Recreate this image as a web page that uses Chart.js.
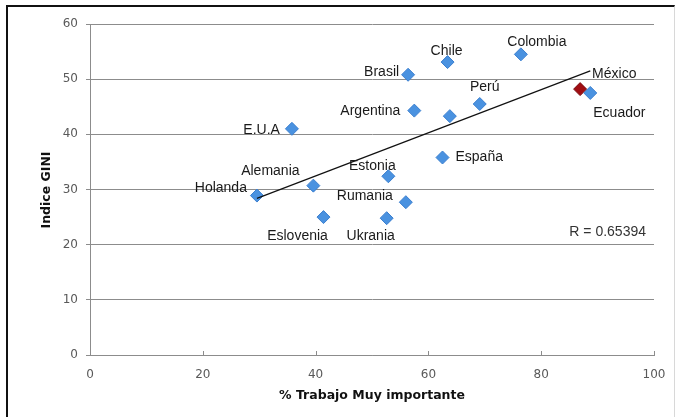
<!DOCTYPE html>
<html>
<head>
<meta charset="utf-8">
<script src="https://cdn.jsdelivr.net/npm/chart.js@4"></script>
<style>
  html, body { margin: 0; padding: 0; background: #fff; }
  #wrap { position: relative; width: 680px; height: 417px; overflow: hidden; }
  #frame {
    position: absolute; left: 6px; top: 5px; width: 666px; height: 430px;
    border-left: 2px solid #111; border-top: 2px solid #111; border-right: 1px solid #d8d8d8;
    pointer-events: none;
  }
</style>
</head>
<body>
<div id="wrap">
  <canvas id="chart" width="680" height="417"></canvas>
  <div id="frame"></div>
</div>
<script>
// values
const countries = ['Holanda', 'E.U.A', 'Alemania', 'Eslovenia', 'Estonia', 'Rumania', 'Ukrania',
  'España', 'Argentina', '', 'Perú', 'Brasil', 'Chile', 'Colombia', 'México', 'Ecuador'];
const trabajo = [29.6, 35.8, 39.6, 41.4, 52.9, 56.0, 52.6, 62.5, 57.5, 63.8, 69.1, 56.4, 63.4, 76.4, 86.9, 88.7];
const gini = [28.9, 41.0, 30.7, 25.0, 32.4, 27.7, 24.8, 35.8, 44.3, 43.3, 45.5, 50.8, 53.1, 54.5, 48.2, 47.5];

const trendX = [29.6, 88.7];
const trendY = [28.4, 51.5];
const rText = 'R = 0.65394';

const xTicks = [0, 20, 40, 60, 80, 100];

// label placement relative to each marker: [dx, dy, align]
const labelPos = {
  'Holanda': [-10, -7, 'right'],
  'E.U.A': [-12, 1, 'right'],
  'Alemania': [-43, -14, 'center'],
  'Eslovenia': [-26, 19, 'center'],
  'Estonia': [-16, -10, 'center'],
  'Rumania': [-13, -6, 'right'],
  'Ukrania': [-16, 18, 'center'],
  'España': [13, 0, 'left'],
  'Argentina': [-14, 1, 'right'],
  'Perú': [5, -17, 'center'],
  'Brasil': [-9, -3, 'right'],
  'Chile': [-1, -11, 'center'],
  'Colombia': [16, -12, 'center'],
  'México': [12, -15, 'left'],
  'Ecuador': [3, 20, 'left']
};

const points = trabajo.map((v, i) => ({ x: v, y: gini[i] }));
const trend = trendX.map((v, i) => ({ x: v, y: trendY[i] }));

const extras = {
  id: 'extras',
  afterDatasetsDraw(chart) {
    const ctx = chart.ctx;
    const meta = chart.getDatasetMeta(1);
    ctx.save();
    ctx.fillStyle = '#1a1a1a';
    ctx.font = '14px "Liberation Sans", Arial, sans-serif';
    ctx.textBaseline = 'middle';
    countries.forEach((name, i) => {
      if (!name) return;
      const p = meta.data[i];
      const pos = labelPos[name] || [8, 0, 'left'];
      ctx.textAlign = pos[2];
      ctx.fillText(name, p.x + pos[0], p.y + pos[1]);
    });
    ctx.fillStyle = '#333';
    ctx.textAlign = 'right';
    ctx.fillText(rText, 646, 232);

    // inward tick marks on x axis
    const xs = chart.scales.x;
    ctx.strokeStyle = '#8c8c8c';
    ctx.lineWidth = 1;
    xTicks.forEach(t => {
      const px = Math.round(xs.getPixelForValue(t)) + 0.5;
      ctx.beginPath();
      ctx.moveTo(px, xs.top);
      ctx.lineTo(px, xs.top - 4);
      ctx.stroke();
    });

    // axis titles
    ctx.fillStyle = '#111';
    ctx.font = 'bold 12.5px "DejaVu Sans", sans-serif';
    ctx.textAlign = 'center';
    ctx.fillText('% Trabajo Muy importante', 372, 396);
    ctx.translate(47, 190);
    ctx.rotate(-Math.PI / 2);
    ctx.fillText('Indice GINI', 0, 0);
    ctx.restore();
  }
};

new Chart(document.getElementById('chart'), {
  type: 'scatter',
  data: {
    datasets: [
      {
        type: 'line',
        data: trend,
        borderColor: '#111',
        borderWidth: 1.2,
        pointRadius: 0,
        fill: false,
        order: 0
      },
      {
        data: points,
        pointStyle: 'rectRot',
        pointRadius: 6.5,
        pointBackgroundColor: ctx => countries[ctx.dataIndex] === 'México' ? '#a00d12' : '#4a92e0',
        pointBorderColor: ctx => countries[ctx.dataIndex] === 'México' ? '#7a0a0e' : '#3b7fcf',
        pointBorderWidth: 1,
        order: 1
      }
    ]
  },
  options: {
    responsive: false,
    animation: false,
    layout: { padding: { left: 0, top: 24, right: 26, bottom: 0 } },
    plugins: { legend: { display: false }, tooltip: { enabled: false } },
    scales: {
      x: {
        type: 'linear',
        min: 0, max: 100,
        afterFit(scale) { scale.height = 62; },
        afterBuildTicks(scale) { scale.ticks = xTicks.map(v => ({ value: v })); },
        grid: { drawOnChartArea: false, drawTicks: false },
        border: { color: '#8c8c8c', width: 1 },
        ticks: { padding: 13, color: '#595959', font: { family: 'DejaVu Sans', size: 12 } }
      },
      y: {
        min: 0, max: 60,
        afterFit(scale) { scale.width = 90; },
        grid: { color: '#8c8c8c', tickLength: 4, lineWidth: 1 },
        border: { color: '#8c8c8c', width: 1 },
        ticks: { stepSize: 10, padding: 8, color: '#595959', font: { family: 'DejaVu Sans', size: 12 } }
      }
    }
  },
  plugins: [extras]
});
</script>
</body>
</html>
